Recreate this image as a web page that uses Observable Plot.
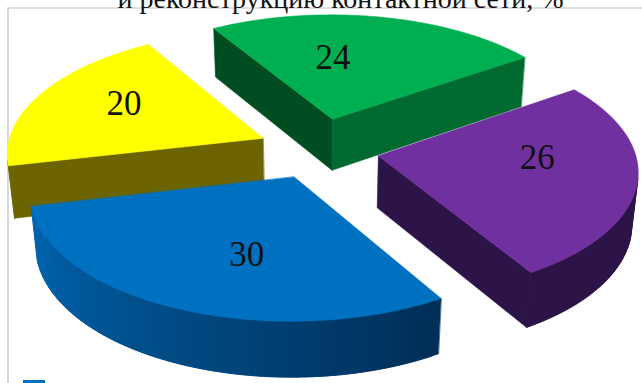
<!DOCTYPE html>
<html lang="ru">
<head>
<meta charset="utf-8">
<script src="https://cdn.jsdelivr.net/npm/d3@7"></script>
<script src="https://cdn.jsdelivr.net/npm/@observablehq/plot@0.6"></script>
<style>
  html, body { margin: 0; padding: 0; background: #fff; overflow: hidden; }
  svg { display: block; }
</style>
</head>
<body>
<div id="chart"></div>
<script>
// Shares of the pie, clockwise from the first slice, in percent.
const shares = [30, 20, 24, 26];
const titleLine = "и реконструкцию контактной сети, %";

// Slice colours and the darker faces of the extruded pie.
const topColors = ["#0070c0", "#ffff00", "#00b050", "#7030a0"];
const startWallColors = ["#003a6e", "#6b6400", "#004d22", "#2d1448"];
const endWallColors = ["#003a6e", "#6b6400", "#006a30", "#2d1448"];
const rimColorsFrom = ["#002f58", "#6b6400", "#006a30", "#2d1448"];
const rimColorsTo = ["#0068b4", "#6b6400", "#006a30", "#2d1448"];

// Label shift from the slice's bisector, in pixels.
const labelShiftX = [14, -15, -26, 18];
const labelShiftY = [9, -9, -3, -12];

// How far each slice is pulled out of the pie, in radii.
const explodeBy = [0.238, 0.238, 0.262, 0.238];

// Pie layout and camera.
const firstAngle = 59;
const labelRadius = 0.55;
const cam = {cx: 318, cy: 149, a: 256, b: 122, p: 0.11, q: 0.02, h: 53};

function project(X, Y, level) {
  const w = 1 - cam.p * Y + cam.q * level;
  return [cam.cx + cam.a * X / w, cam.cy + (cam.b * Y + cam.h * level) / w];
}
const rad = (d) => d * Math.PI / 180;
const total = d3.sum(shares);

let cursor = firstAngle;
const slices = shares.map((value, i) => {
  const start = cursor;
  const end = start + value / total * 360;
  cursor = end;
  const mid = (start + end) / 2;
  const ox = explodeBy[i] * Math.cos(rad(mid));
  const oy = explodeBy[i] * Math.sin(rad(mid));
  return {i, value, start, end, mid, ox, oy};
});

// Faces are emitted back to front: far slices first, walls before the top.
const faces = [];
let faceId = 0;
function addFace(points, color) {
  const id = faceId++;
  for (const [x, y] of points) faces.push({id, x, y, color});
}
function signedArea(pts) {
  return d3.sum(pts, (p, k) => {
    const n = pts[(k + 1) % pts.length];
    return p[0] * n[1] - n[0] * p[1];
  });
}
for (const s of d3.sort(slices, (d) => d.oy)) {
  const arc = d3.range(s.start, s.end, 1.5).concat(s.end)
    .map((t) => ({t, X: s.ox + Math.cos(rad(t)), Y: s.oy + Math.sin(rad(t))}));
  const apex = {X: s.ox, Y: s.oy};
  const wall = (u, v) => [project(u.X, u.Y, 0), project(v.X, v.Y, 0), project(v.X, v.Y, 1), project(u.X, u.Y, 1)];
  const rimColor = d3.scaleLinear()
    .domain([s.start, s.end])
    .range([rimColorsFrom[s.i], rimColorsTo[s.i]]);

  const startWall = wall(apex, arc[0]);
  if (signedArea(startWall) < 0) addFace(startWall, startWallColors[s.i]);
  const endWall = wall(arc[arc.length - 1], apex);
  if (signedArea(endWall) < 0) addFace(endWall, endWallColors[s.i]);
  // Rim strips overlap the next strip so no seam shows between them.
  for (let k = arc.length - 2; k >= 0; --k) {
    const q = wall(arc[k], arc[k + 1]);
    if (signedArea(q) < 0) addFace(wall(arc[k], arc[Math.min(k + 2, arc.length - 1)]), rimColor(arc[k].t));
  }
  addFace([apex, ...arc].map((d) => project(d.X, d.Y, 0)), topColors[s.i]);
}

const labels = slices.map((s) => {
  const [x, y] = project(
    s.ox + labelRadius * Math.cos(rad(s.mid)),
    s.oy + labelRadius * Math.sin(rad(s.mid)),
    0
  );
  return {x: x + labelShiftX[s.i], y: y + labelShiftY[s.i], text: String(s.value)};
});

const serif = "'Liberation Serif', 'Times New Roman', serif";
const chart = Plot.plot({
  width: 642,
  height: 383,
  margin: 0,
  x: {domain: [0, 642], range: [0, 642], axis: null},
  y: {domain: [0, 383], range: [0, 383], axis: null},
  color: {type: "identity"},
  style: {background: "#fff"},
  marks: [
    Plot.ruleY([7.5], {x1: 7.5, x2: 642, stroke: "#d6d6d6", strokeWidth: 1.5}),
    Plot.ruleX([7.5], {y1: 7.5, y2: 383, stroke: "#cccccc", strokeWidth: 1.5}),
    Plot.text([titleLine], {
      x: 340, y: 7, text: (d) => d, lineAnchor: "bottom",
      fontFamily: serif, fontSize: 28, fill: "#111"
    }),
    Plot.line(faces, {
      x: "x", y: "y", z: "id", fill: "color", stroke: "color",
      strokeWidth: 0.6, curve: "linear-closed"
    }),
    Plot.text(labels, {
      x: "x", y: "y", text: "text",
      fontFamily: serif, fontSize: 35, fill: "#111"
    }),
    Plot.rect([topColors[0]], {x1: 23, x2: 45, y1: 380, y2: 386, fill: (d) => d})
  ]
});
document.getElementById("chart").append(chart);
</script>
</body>
</html>
